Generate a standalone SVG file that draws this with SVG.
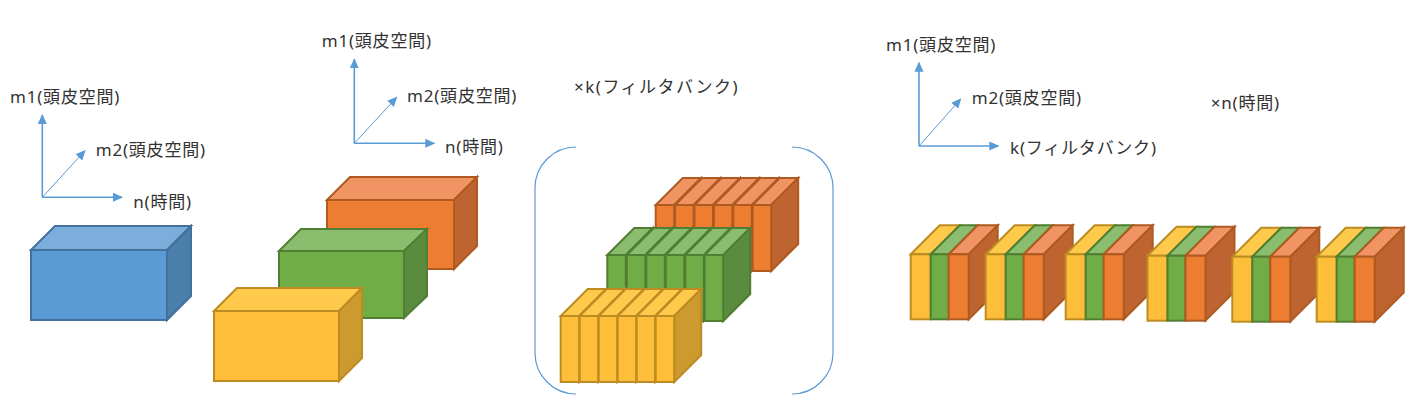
<svg xmlns="http://www.w3.org/2000/svg" xmlns:xlink="http://www.w3.org/1999/xlink" width="1428" height="407" viewBox="0 0 1428 407">
<style>
text{font-family:"Noto Sans","Noto Sans CJK JP",sans-serif;font-size:17px;fill:#333;letter-spacing:0.8px}
.wide{letter-spacing:1.5px}
.ax{stroke:#5B9BD5;stroke-width:1.6;fill:none}
.axd{stroke:#5B9BD5;stroke-width:1;fill:none}
.br{stroke:#5B9BD5;stroke-width:1.2;fill:none}
.bf{fill:#5B9BD5;stroke:#41719C;stroke-width:2}
.bt{fill:#7CAEDC;stroke:#41719C;stroke-width:2}
.bs{fill:#4A7EAB;stroke:#41719C;stroke-width:2}
.of{fill:#ED7D31;stroke:#AE5A21;stroke-width:2}
.ot{fill:#F19463;stroke:#AE5A21;stroke-width:2}
.os{fill:#BE6430;stroke:#AE5A21;stroke-width:2}
.gf{fill:#70AD47;stroke:#507E32;stroke-width:2}
.gt{fill:#8BBD6E;stroke:#507E32;stroke-width:2}
.gs{fill:#5A8B3E;stroke:#507E32;stroke-width:2}
.yf{fill:#FFBE3A;stroke:#BC8C22;stroke-width:2}
.yt{fill:#FFCA4C;stroke:#BC8C22;stroke-width:2}
.ys{fill:#CC9A2E;stroke:#BC8C22;stroke-width:2}
</style>
<defs>
<marker id="arr" markerUnits="userSpaceOnUse" markerWidth="10" markerHeight="10" refX="9" refY="5" orient="auto" viewBox="0 0 10 10">
<path d="M0,0.5 L10,5 L0,9.5 Z" fill="#5B9BD5"/>
</marker>
<g id="so">
<polygon class="ot" points="0,0 27,-27 45.5,-27 18.5,0"/>
<polygon class="os" points="18.5,0 45.5,-27 45.5,39 18.5,66"/>
<rect class="of" x="0" y="0" width="18.5" height="66"/>
</g>
<g id="sg">
<polygon class="gt" points="0,0 27,-27 45.5,-27 18.5,0"/>
<polygon class="gs" points="18.5,0 45.5,-27 45.5,39 18.5,66"/>
<rect class="gf" x="0" y="0" width="18.5" height="66"/>
</g>
<g id="sy">
<polygon class="yt" points="0,0 27,-27 45.5,-27 18.5,0"/>
<polygon class="ys" points="18.5,0 45.5,-27 45.5,39 18.5,66"/>
<rect class="yf" x="0" y="0" width="18.5" height="66"/>
</g>
<g id="blk">
<polygon class="yt" points="0,0 29,-29 49,-29 20,0"/>
<rect class="yf" x="0" y="0" width="20" height="65"/>
<polygon class="gt" points="20,0 49,-29 67,-29 38,0"/>
<rect class="gf" x="20" y="0" width="18" height="65"/>
<polygon class="ot" points="38,0 67,-29 87,-29 58,0"/>
<polygon class="os" points="58,0 87,-29 87,36 58,65"/>
<rect class="of" x="38" y="0" width="20" height="65"/>
</g>
</defs>

<g id="connectors">
<path class="ax" d="M42.3,197.3 V115" marker-end="url(#arr)"/>
<path class="ax" d="M42.3,197.3 H122" marker-end="url(#arr)"/>
<path class="axd" d="M42.3,197.3 L85,150.7" marker-end="url(#arr)"/>
<path class="ax" d="M354.3,143.3 V59.3" marker-end="url(#arr)"/>
<path class="ax" d="M354.3,143.3 H434.3" marker-end="url(#arr)"/>
<path class="axd" d="M354.3,143.3 L396.7,97.3" marker-end="url(#arr)"/>
<path class="ax" d="M919,146 V62.7" marker-end="url(#arr)"/>
<path class="ax" d="M919,146 H998.3" marker-end="url(#arr)"/>
<path class="axd" d="M919,146 L960.7,99" marker-end="url(#arr)"/>
</g>

<g id="labels">
<text x="10" y="103">m1(頭皮空間)</text>
<text x="95.7" y="156">m2(頭皮空間)</text>
<text x="133.3" y="208">n(時間)</text>
<text x="321.7" y="47">m1(頭皮空間)</text>
<text x="407" y="102">m2(頭皮空間)</text>
<text x="445" y="153">n(時間)</text>
<text class="wide" x="574" y="93">×k(フィルタバンク)</text>
<text x="886" y="51">m1(頭皮空間)</text>
<text x="971.7" y="104">m2(頭皮空間)</text>
<text x="1010" y="154">k(フィルタバンク)</text>
<text x="1210.7" y="109">×n(時間)</text>
</g>

<g id="blue-box">
<polygon class="bt" points="31,250 55,226 191,226 167,250"/>
<polygon class="bs" points="167,250 191,226 191,296 167,320"/>
<rect class="bf" x="31" y="250" width="136" height="70"/>
</g>

<g id="orange-box">
<polygon class="ot" points="327,200 350,177 477,177 454,200"/>
<polygon class="os" points="454,200 477,177 477,246 454,269"/>
<rect class="of" x="327" y="200" width="127" height="69"/>
</g>
<g id="green-box">
<polygon class="gt" points="279,251 301,229 427,229 404,251"/>
<polygon class="gs" points="404,251 427,229 427,296 404,318"/>
<rect class="gf" x="279" y="251" width="125" height="67"/>
</g>
<g id="yellow-box">
<polygon class="yt" points="214,311 237,288 362,288 339,311"/>
<polygon class="ys" points="339,311 362,288 362,358 339,381"/>
<rect class="yf" x="214" y="311" width="125" height="70"/>
</g>

<g id="filterbank">
<path class="br" d="M576,147 A41,41 0 0 0 535,188 V353 A41,41 0 0 0 576,394"/>
<path class="br" d="M792,147 A41,41 0 0 1 833,188 V353 A41,41 0 0 1 792,394"/>
<g id="orange-slabs">
<use xlink:href="#so" x="655.7" y="205"/>
<use xlink:href="#so" x="675.1" y="205"/>
<use xlink:href="#so" x="694.5" y="205"/>
<use xlink:href="#so" x="713.9" y="205"/>
<use xlink:href="#so" x="733.3" y="205"/>
<use xlink:href="#so" x="752.7" y="205"/>
</g>
<g id="green-slabs">
<use xlink:href="#sg" x="607.3" y="255"/>
<use xlink:href="#sg" x="626.8" y="255"/>
<use xlink:href="#sg" x="646.3" y="255"/>
<use xlink:href="#sg" x="665.8" y="255"/>
<use xlink:href="#sg" x="685.3" y="255"/>
<use xlink:href="#sg" x="704.7" y="255"/>
</g>
<g id="yellow-slabs">
<use xlink:href="#sy" x="560.7" y="316"/>
<use xlink:href="#sy" x="579.7" y="316"/>
<use xlink:href="#sy" x="598.7" y="316"/>
<use xlink:href="#sy" x="617.7" y="316"/>
<use xlink:href="#sy" x="636.7" y="316"/>
<use xlink:href="#sy" x="655.7" y="316"/>
</g>
</g>

<g id="time-blocks">
<use id="blk1" xlink:href="#blk" x="910.7" y="254.3"/>
<use id="blk2" xlink:href="#blk" x="985.7" y="254.3"/>
<use id="blk3" xlink:href="#blk" x="1065.7" y="254.3"/>
<use id="blk4" xlink:href="#blk" x="1147.5" y="255.7"/>
<use id="blk5" xlink:href="#blk" x="1232.3" y="256.7"/>
<use id="blk6" xlink:href="#blk" x="1316.7" y="256.7"/>
</g>
</svg>
